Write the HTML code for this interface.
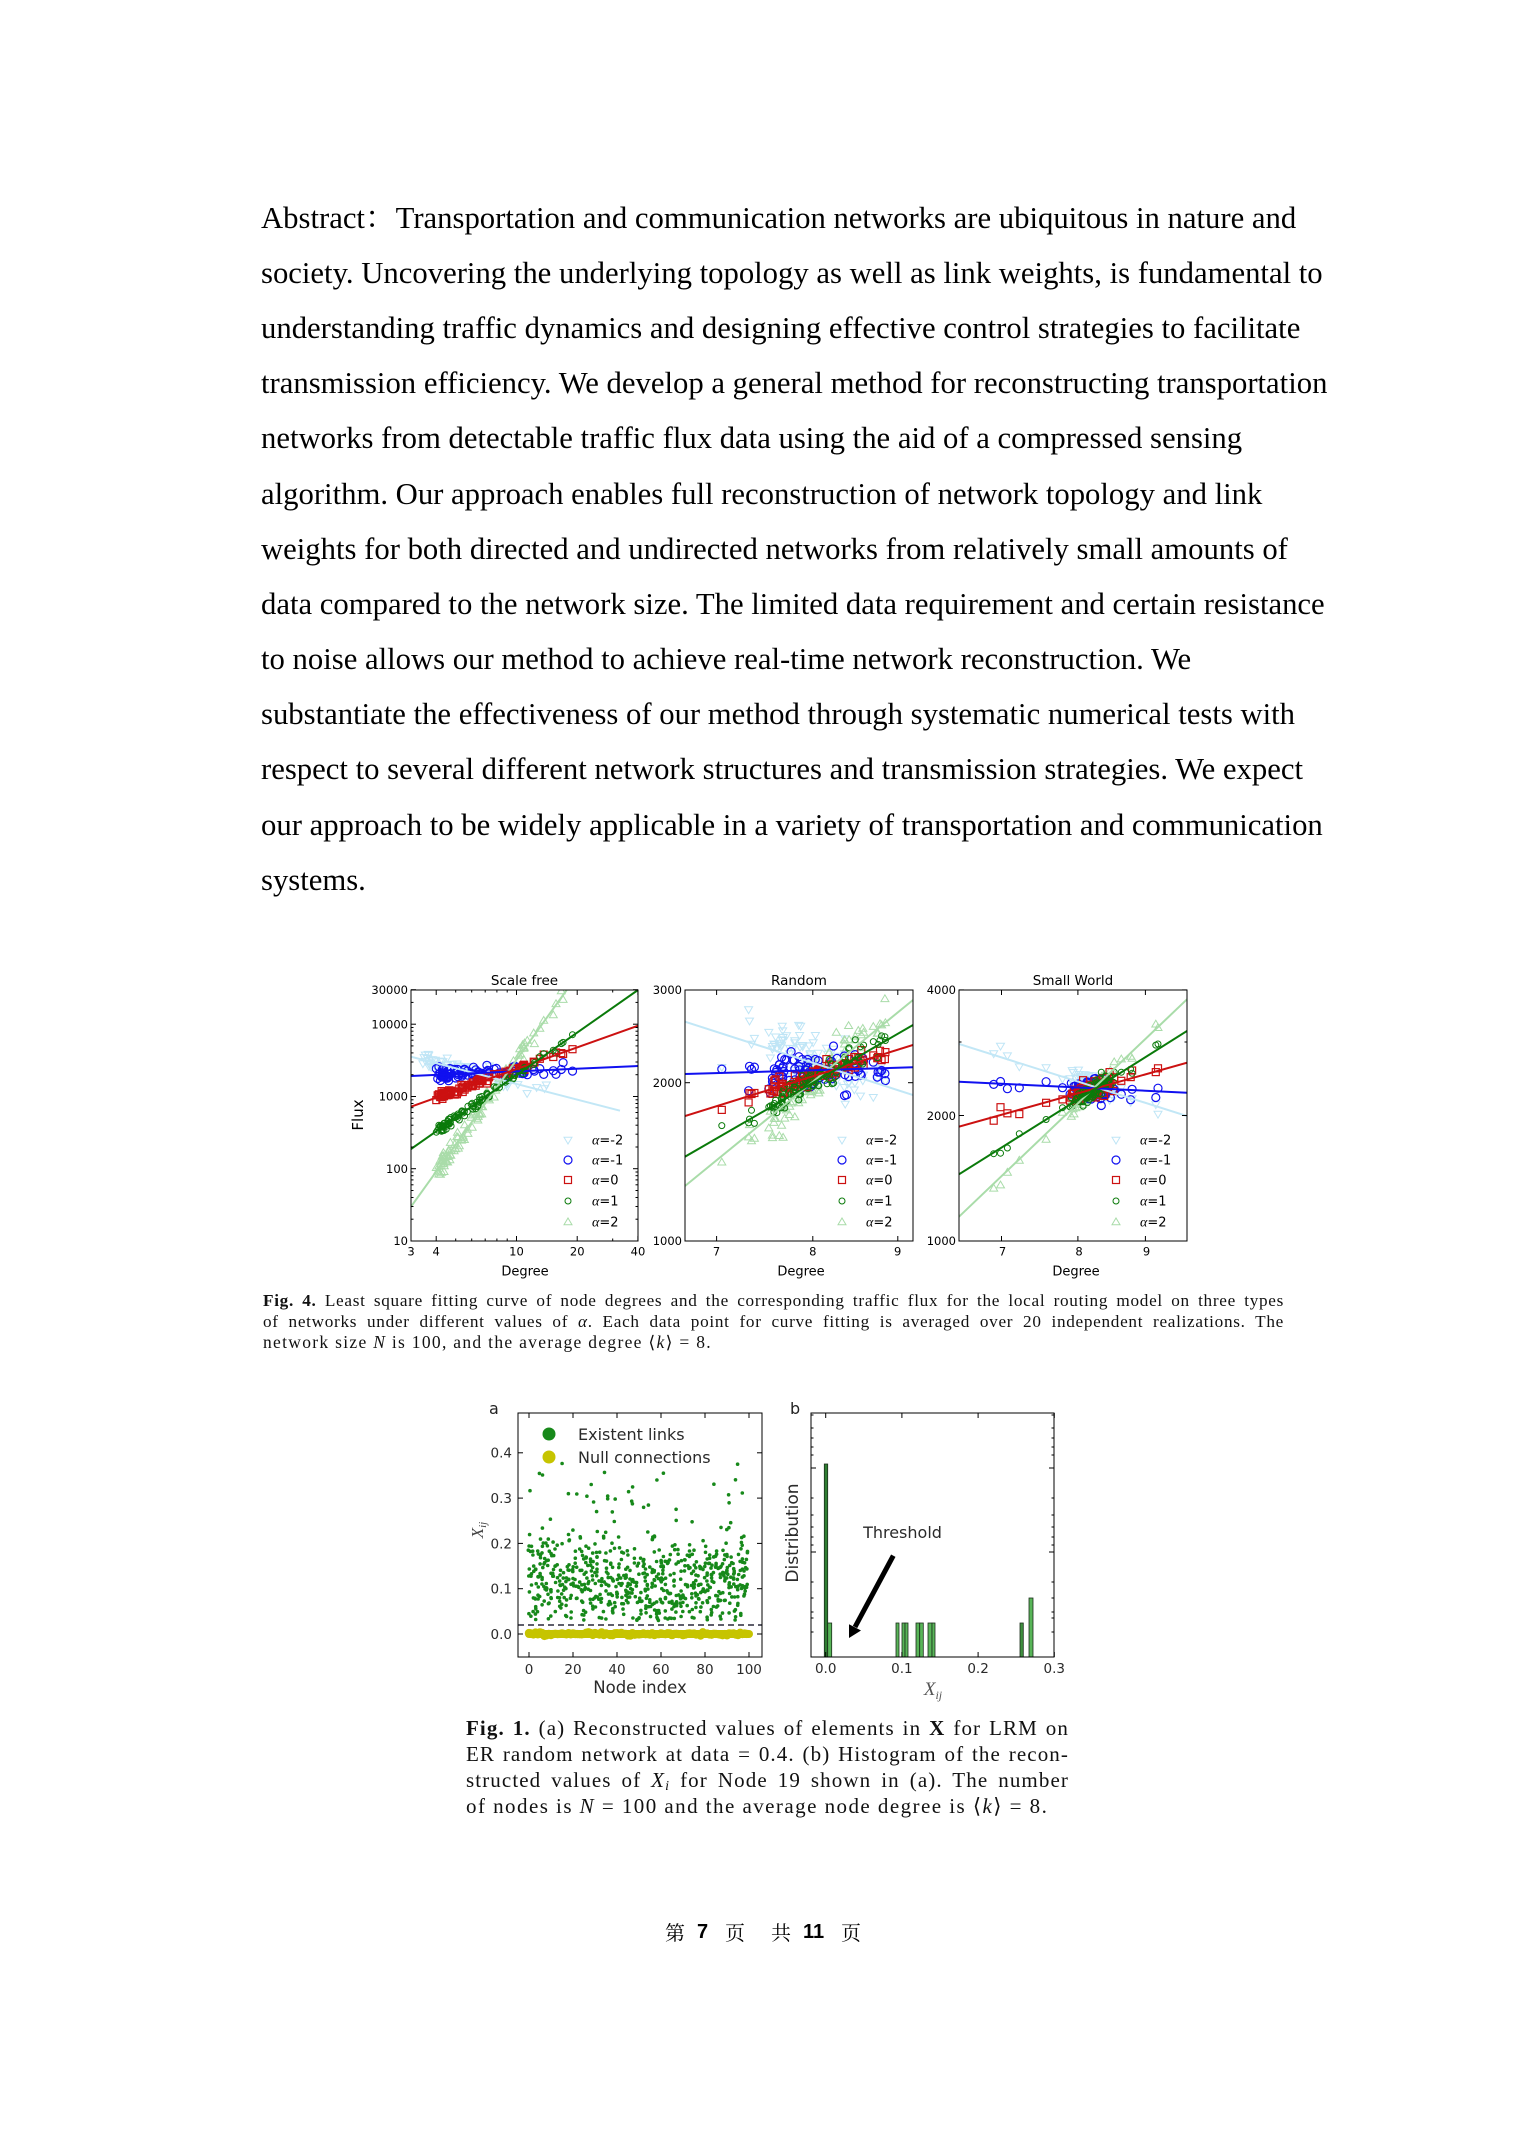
<!DOCTYPE html>
<html><head><meta charset="utf-8">
<style>
html,body{margin:0;padding:0;background:#fff;}
body{width:1522px;height:2152px;position:relative;overflow:hidden;}
.ab{position:absolute;left:261px;font-family:"Liberation Serif","Noto Serif CJK SC",serif;font-size:30.7px;line-height:36px;white-space:nowrap;color:#000;}
.c4{position:absolute;left:263px;width:1021px;font-family:"Liberation Serif","DejaVu Serif",serif;font-size:17.2px;letter-spacing:0.7px;line-height:21px;color:#111;text-align:justify;text-align-last:justify;}
.c1{position:absolute;left:466px;width:603px;font-family:"Liberation Serif","DejaVu Serif",serif;font-size:21px;letter-spacing:1.1px;line-height:26px;color:#111;text-align:justify;text-align-last:justify;}
.l{text-align:left;text-align-last:left;}
.ft{position:absolute;top:1920px;line-height:24px;font-size:20px;white-space:nowrap;color:#000;}
.cj{font-family:"Noto Serif CJK SC","Noto Sans CJK SC",serif;}
.dg{font-family:"Liberation Sans",sans-serif;font-weight:bold;}
svg{position:absolute;left:0;top:0;}
</style></head>
<body>
<div class="ab" style="top:199.6px">Abstract：Transportation and communication networks are ubiquitous in nature and</div>
<div class="ab" style="top:254.8px">society. Uncovering the underlying topology as well as link weights, is fundamental to</div>
<div class="ab" style="top:309.9px">understanding traffic dynamics and designing effective control strategies to facilitate</div>
<div class="ab" style="top:365.1px">transmission efficiency. We develop a general method for reconstructing transportation</div>
<div class="ab" style="top:420.3px">networks from detectable traffic flux data using the aid of a compressed sensing</div>
<div class="ab" style="top:475.5px">algorithm. Our approach enables full reconstruction of network topology and link</div>
<div class="ab" style="top:530.6px">weights for both directed and undirected networks from relatively small amounts of</div>
<div class="ab" style="top:585.8px">data compared to the network size. The limited data requirement and certain resistance</div>
<div class="ab" style="top:641px">to noise allows our method to achieve real-time network reconstruction. We</div>
<div class="ab" style="top:696.1px">substantiate the effectiveness of our method through systematic numerical tests with</div>
<div class="ab" style="top:751.3px">respect to several different network structures and transmission strategies. We expect</div>
<div class="ab" style="top:806.5px">our approach to be widely applicable in a variety of transportation and communication</div>
<div class="ab" style="top:861.6px">systems.</div>

<div class="c4" style="top:1289.5px"><b>Fig. 4.</b> Least square fitting curve of node degrees and the corresponding traffic flux for the local routing model on three types</div>
<div class="c4" style="top:1310.5px">of networks under different values of <i>α</i>. Each data point for curve fitting is averaged over 20 independent realizations. The</div>
<div class="c4 l" style="top:1331.5px;font-size:17.5px;letter-spacing:1.3px">network size <i>N</i> is 100, and the average degree ⟨<i>k</i>⟩ = 8.</div>

<div class="c1" style="top:1714.8px"><b>Fig. 1.</b> (a) Reconstructed values of elements in <b>X</b> for LRM on</div>
<div class="c1" style="top:1740.8px">ER random network at data = 0.4. (b) Histogram of the recon-</div>
<div class="c1" style="top:1766.8px">structed values of <i>X</i><span style="font-size:14px;font-style:italic;vertical-align:-3px">i</span> for Node 19 shown in (a). The number</div>
<div class="c1 l" style="top:1792.8px;letter-spacing:1.45px">of nodes is <i>N</i> = 100 and the average node degree is ⟨<i>k</i>⟩ = 8.</div>

<div class="ft cj" style="left:665px">第</div>
<div class="ft dg" style="left:697px">7</div>
<div class="ft cj" style="left:725px">页</div>
<div class="ft cj" style="left:771px">共</div>
<div class="ft dg" style="left:803px">11</div>
<div class="ft cj" style="left:841px">页</div>

<svg width="1522" height="2152" viewBox="0 0 1522 2152" xmlns="http://www.w3.org/2000/svg">
<defs>
<clipPath id="c1"><rect x="411" y="990" width="227" height="251"/></clipPath>
<clipPath id="c2"><rect x="685" y="990" width="228" height="251"/></clipPath>
<clipPath id="c3"><rect x="959" y="990" width="228" height="251"/></clipPath>
<clipPath id="ca"><rect x="518" y="1413" width="244" height="244"/></clipPath>
</defs>
<g font-family="DejaVu Sans, sans-serif" fill="#000">
<text x="524.5" y="985" font-size="13.5" text-anchor="middle">Scale free</text>
<text x="799" y="985" font-size="13.5" text-anchor="middle">Random</text>
<text x="1073" y="985" font-size="13.5" text-anchor="middle">Small World</text>
<g id="pts1" clip-path="url(#c1)"></g>
<g id="pts2" clip-path="url(#c2)"></g>
<g id="pts3" clip-path="url(#c3)"></g>
<g clip-path="url(#c1)" stroke-width="2" fill="none">
<line x1="411" y1="1056.7" x2="620" y2="1110.7" stroke="#c2e7f6"/>
<line x1="411" y1="1206.7" x2="566.7" y2="990" stroke="#a9dca9"/>
<line x1="411" y1="1076" x2="638" y2="1066" stroke="#1010f0"/>
<line x1="411" y1="1106.7" x2="638" y2="1025.7" stroke="#cc1111"/>
<line x1="411" y1="1149" x2="638" y2="990" stroke="#0a7a0a"/>
</g>
<g clip-path="url(#c2)" stroke-width="2" fill="none">
<line x1="685" y1="1021.7" x2="913" y2="1095" stroke="#c2e7f6"/>
<line x1="685" y1="1186" x2="913" y2="1000" stroke="#a9dca9"/>
<line x1="685" y1="1074" x2="913" y2="1067.3" stroke="#1010f0"/>
<line x1="685" y1="1116" x2="913" y2="1045" stroke="#cc1111"/>
<line x1="685" y1="1156.7" x2="913" y2="1025" stroke="#0a7a0a"/>
</g>
<g clip-path="url(#c3)" stroke-width="2" fill="none">
<line x1="959" y1="1044" x2="1187" y2="1116" stroke="#c2e7f6"/>
<line x1="959" y1="1216.7" x2="1187" y2="999.3" stroke="#a9dca9"/>
<line x1="959" y1="1081.7" x2="1187" y2="1092.7" stroke="#1010f0"/>
<line x1="959" y1="1126.7" x2="1187" y2="1062.7" stroke="#cc1111"/>
<line x1="959" y1="1174.3" x2="1187" y2="1031" stroke="#0a7a0a"/>
</g>
<g fill="none" stroke="#000" stroke-width="1">
<rect x="411" y="990" width="227" height="251"/>
<rect x="685" y="990" width="228" height="251"/>
<rect x="959" y="990" width="228" height="251"/>
</g>
<g id="ticks4" stroke="#000" stroke-width="1"></g>
<g font-size="11.5" text-anchor="end">
<text x="408" y="994.2">30000</text>
<text x="408" y="1028.4">10000</text>
<text x="408" y="1100.7">1000</text>
<text x="408" y="1173">100</text>
<text x="408" y="1245.2">10</text>
<text x="682" y="994.2">3000</text>
<text x="682" y="1086.9">2000</text>
<text x="682" y="1245.2">1000</text>
<text x="956" y="994.2">4000</text>
<text x="956" y="1120">2000</text>
<text x="956" y="1245.2">1000</text>
</g>
<g font-size="11.5" text-anchor="middle">
<text x="411" y="1255.5">3</text>
<text x="436.2" y="1255.5">4</text>
<text x="516.5" y="1255.5">10</text>
<text x="577.2" y="1255.5">20</text>
<text x="638" y="1255.5">40</text>
<text x="716.6" y="1255.5">7</text>
<text x="812.8" y="1255.5">8</text>
<text x="897.7" y="1255.5">9</text>
<text x="1002.5" y="1255.5">7</text>
<text x="1079" y="1255.5">8</text>
<text x="1146.5" y="1255.5">9</text>
</g>
<g font-size="13" text-anchor="middle">
<text x="525" y="1275.5">Degree</text>
<text x="801" y="1275.5">Degree</text>
<text x="1076" y="1275.5">Degree</text>
</g>
<text transform="translate(363,1115) rotate(-90)" font-size="15" text-anchor="middle">Flux</text>
<g id="leg"></g>
<g font-size="13">
<text x="592" y="1144.7"><tspan font-family="Liberation Serif" font-style="italic" font-size="14">α</tspan>=-2</text>
<text x="592" y="1164.7"><tspan font-family="Liberation Serif" font-style="italic" font-size="14">α</tspan>=-1</text>
<text x="592" y="1184.7"><tspan font-family="Liberation Serif" font-style="italic" font-size="14">α</tspan>=0</text>
<text x="592" y="1205.7"><tspan font-family="Liberation Serif" font-style="italic" font-size="14">α</tspan>=1</text>
<text x="592" y="1226.7"><tspan font-family="Liberation Serif" font-style="italic" font-size="14">α</tspan>=2</text>
<text x="866" y="1144.7"><tspan font-family="Liberation Serif" font-style="italic" font-size="14">α</tspan>=-2</text>
<text x="866" y="1164.7"><tspan font-family="Liberation Serif" font-style="italic" font-size="14">α</tspan>=-1</text>
<text x="866" y="1184.7"><tspan font-family="Liberation Serif" font-style="italic" font-size="14">α</tspan>=0</text>
<text x="866" y="1205.7"><tspan font-family="Liberation Serif" font-style="italic" font-size="14">α</tspan>=1</text>
<text x="866" y="1226.7"><tspan font-family="Liberation Serif" font-style="italic" font-size="14">α</tspan>=2</text>
<text x="1140" y="1144.7"><tspan font-family="Liberation Serif" font-style="italic" font-size="14">α</tspan>=-2</text>
<text x="1140" y="1164.7"><tspan font-family="Liberation Serif" font-style="italic" font-size="14">α</tspan>=-1</text>
<text x="1140" y="1184.7"><tspan font-family="Liberation Serif" font-style="italic" font-size="14">α</tspan>=0</text>
<text x="1140" y="1205.7"><tspan font-family="Liberation Serif" font-style="italic" font-size="14">α</tspan>=1</text>
<text x="1140" y="1226.7"><tspan font-family="Liberation Serif" font-style="italic" font-size="14">α</tspan>=2</text>
</g>

<text x="489" y="1414" font-size="16" fill="#222">a</text>
<rect x="525" y="1630" width="228" height="8" rx="4" fill="#c6c400"/>
<g id="pa" clip-path="url(#ca)"></g>
<line x1="518" y1="1625" x2="762" y2="1625" stroke="#2a2a3a" stroke-width="1.5" stroke-dasharray="6,4"/>
<rect x="518" y="1413" width="244" height="244" fill="none" stroke="#000" stroke-width="1"/>
<g id="ticksa" stroke="#000" stroke-width="1"></g>
<circle cx="549" cy="1434" r="6.5" fill="#17891a"/>
<circle cx="549" cy="1457" r="6.5" fill="#c6c400"/>
<g font-size="16" fill="#2a2a2a">
<text x="578" y="1440">Existent links</text>
<text x="578" y="1463">Null connections</text>
</g>
<g font-size="13.5" fill="#2a2a2a" text-anchor="end">
<text x="512" y="1638.9">0.0</text>
<text x="512" y="1593.6">0.1</text>
<text x="512" y="1548.3">0.2</text>
<text x="512" y="1503">0.3</text>
<text x="512" y="1457.7">0.4</text>
</g>
<g font-size="13.5" fill="#2a2a2a" text-anchor="middle">
<text x="529" y="1674">0</text>
<text x="573" y="1674">20</text>
<text x="617" y="1674">40</text>
<text x="661" y="1674">60</text>
<text x="705" y="1674">80</text>
<text x="749" y="1674">100</text>
</g>
<text x="640" y="1693" font-size="16.5" fill="#2a2a2a" text-anchor="middle">Node index</text>
<text transform="translate(483,1530) rotate(-90)" font-size="17" fill="#444" text-anchor="middle" font-family="Liberation Serif, serif" font-style="italic">X<tspan font-size="11" dy="3">ij</tspan></text>

<text x="790" y="1414" font-size="16" fill="#222">b</text>
<g stroke="#1b2e1b" stroke-width="0.8">
<rect x="824.3" y="1464" width="3.4" height="193" fill="#2f7d32"/>
<rect x="827.7" y="1623" width="4" height="34" fill="#58b558"/>
<rect x="896" y="1623" width="3" height="34" fill="#58b558"/>
<rect x="902" y="1623" width="3" height="34" fill="#58b558"/>
<rect x="905" y="1623" width="3" height="34" fill="#58b558"/>
<rect x="916" y="1623" width="3.7" height="34" fill="#58b558"/>
<rect x="919.7" y="1623" width="3.6" height="34" fill="#58b558"/>
<rect x="928" y="1623" width="4" height="34" fill="#58b558"/>
<rect x="932" y="1623" width="3" height="34" fill="#58b558"/>
<rect x="1020" y="1623" width="3.3" height="34" fill="#3f8f3f"/>
<rect x="1029" y="1598" width="4" height="59" fill="#58b558"/>
</g>
<rect x="811" y="1413" width="243" height="244" fill="none" stroke="#000" stroke-width="1"/>
<g id="ticksb" stroke="#000" stroke-width="1"></g>
<g font-size="13.5" fill="#2a2a2a" text-anchor="middle">
<text x="825.7" y="1673">0.0</text>
<text x="901.9" y="1673">0.1</text>
<text x="978.1" y="1673">0.2</text>
<text x="1054.3" y="1673">0.3</text>
</g>
<text x="902.5" y="1538" font-size="16" fill="#2a2a2a" text-anchor="middle">Threshold</text>
<line x1="893.3" y1="1555.7" x2="855" y2="1627" stroke="#000" stroke-width="5"/>
<polygon points="849,1638 861,1630.5 849,1624.3" fill="#000"/>
<text transform="translate(798,1533) rotate(-90)" font-size="17" fill="#2a2a2a" text-anchor="middle">Distribution</text>
<text x="933" y="1695" font-size="19" fill="#555" text-anchor="middle" font-family="Liberation Serif, serif" font-style="italic">X<tspan font-size="12" dy="4">ij</tspan></text>
</g>
</svg>

<script>
(function(){
var sd=987654;
function R(){sd=(sd*16807)%2147483647;return (sd-1)/2147483646;}
function N(){var u=R()||1e-9,v=R();return Math.sqrt(-2*Math.log(u))*Math.cos(2*Math.PI*v);}
function f(v){return v.toFixed(1);}
function ln(x1,y1,x2,y2){return '<line x1="'+f(x1)+'" y1="'+f(y1)+'" x2="'+f(x2)+'" y2="'+f(y2)+'"/>';}
function circ(x,y,r,c,w){return '<circle cx="'+f(x)+'" cy="'+f(y)+'" r="'+r+'" fill="none" stroke="'+c+'" stroke-width="'+w+'"/>';}
function sq(x,y,h,c,w){return '<rect x="'+f(x-h)+'" y="'+f(y-h)+'" width="'+(2*h)+'" height="'+(2*h)+'" fill="none" stroke="'+c+'" stroke-width="'+w+'"/>';}
function tri(x,y,h,c,w,down){var d=down?-1:1;return '<polygon points="'+[x-h,y+d*h*0.7,x+h,y+d*h*0.7,x,y-d*h].map(f).join(',')+'" fill="none" stroke="'+c+'" stroke-width="'+w+'"/>';}
var C={m2:'#bfe5f6',m1:'#1010f0',z:'#cc1111',p1:'#0a7a0a',p2:'#a9dca9'};
function mk(s,x,y){
 if(s==='m2')return tri(x,y,4,C.m2,1,true);
 if(s==='m1')return circ(x,y,4,C.m1,1.2);
 if(s==='z')return sq(x,y,3.5,C.z,1.2);
 if(s==='p1')return circ(x,y,3,C.p1,1);
 return tri(x,y,4,C.p2,1,false);
}
var P=[
 {id:'pts1',
  X:function(d){return 411+201.7*Math.log10(d/3);},
  L:{m2:[411,1056.7,620,1110.7],m1:[411,1076,638,1066],z:[411,1106.7,638,1025.7],p1:[411,1149,638,990],p2:[411,1206.7,566.7,990]},
  deg:function(){return 4/Math.sqrt(1-0.985*R())+0.25*R();},
  nz:{m2:4,m1:3.5,z:1.8,p1:2.2,p2:5}},
 {id:'pts2',
  X:function(d){return 685+1660*Math.log10(d/6.7);},
  L:{m2:[685,1021.7,913,1095],m1:[685,1074,913,1067.3],z:[685,1116,913,1045],p1:[685,1156.7,913,1025],p2:[685,1186,913,1000]},
  deg:function(){var d=8.05+0.38*N();return Math.max(6.85,Math.min(8.9,d));},
  nz:{m2:15,m1:9,z:4,p1:6,p2:11}},
 {id:'pts3',
  X:function(d){return 959+1319*Math.log10(d/6.5);},
  L:{m2:[959,1044,1187,1116],m1:[959,1081.7,1187,1092.7],z:[959,1126.7,1187,1062.7],p1:[959,1174.3,1187,1031],p2:[959,1216.7,1187,999.3]},
  deg:function(){if(R()<0.85)return 8.2+0.17*N();return 6.8+2.6*R();},
  nz:{m2:5,m1:5,z:4,p1:4,p2:5}}
];
function ly(L,x){return L[1]+(L[3]-L[1])*(x-L[0])/(L[2]-L[0]);}
var order=['m2','p2','m1','z','p1'];
P.forEach(function(p){
 var degs=[];for(var i=0;i<100;i++)degs.push(p.deg());
 var h='';
 order.forEach(function(s){
  for(var i=0;i<degs.length;i++){
   var d=degs[i];
   if(s==='m2'&&p.id==='pts1'){d=d*0.82+0.1; if(i%3===0)continue;}
   var x=p.X(d);
   if(s==='m2'&&p.id==='pts1'&&x>600)continue;
   var y=ly(p.L[s],x)+p.nz[s]*N();
   h+=mk(s,x,y);
  }
 });
 document.getElementById(p.id).innerHTML=h;
});
var lg='',rows=[1140,1160,1180,1201,1222];
[411,685,959].forEach(function(x0){
 var ss=['m2','m1','z','p1','p2'];
 for(var k=0;k<5;k++)lg+=mk(ss[k],x0+157,rows[k]);
});
document.getElementById('leg').innerHTML=lg;
var t='';
function yt(x0,x1,y,L){t+=ln(x0,y,x0+L,y)+ln(x1,y,x1-L,y);}
function xt(y0,y1,x,L){t+=ln(x,y1,x,y1-L)+ln(x,y0,x,y0+L);}
function Ysf(v){return 1241-72.27*Math.log10(v/10);}
[10,100,1000,10000,30000].forEach(function(v){yt(411,638,Ysf(v),5);});
[10,100,1000,10000].forEach(function(b){for(var k=2;k<=9;k++){var v=k*b;if(v<30000)yt(411,638,Ysf(v),2.5);}});
[3,4,10,20,40].forEach(function(d){xt(990,1241,P[0].X(d),5);});
[5,6,7,8,9,30].forEach(function(d){xt(990,1241,P[0].X(d),2.5);});
function Yr(v){return 1241-526*Math.log10(v/1000);}
[1000,2000,3000].forEach(function(v){yt(685,913,Yr(v),5);});
[7,8,9].forEach(function(d){xt(990,1241,P[1].X(d),5);});
function Ysw(v){return 1241-417*Math.log10(v/1000);}
[1000,2000,4000].forEach(function(v){yt(959,1187,Ysw(v),5);});
yt(959,1187,Ysw(3000),2.5);
[7,8,9].forEach(function(d){xt(990,1241,P[2].X(d),5);});
document.getElementById('ticks4').innerHTML=t;
var a='';
for(var i=0;i<100;i++){
 var x=529+2.2*i;a+='<circle cx="'+f(x)+'" cy="'+f(1634+0.8*N())+'" r="4.2" fill="#c6c400"/>';
}
for(var i=0;i<100;i++){
 var x=529+2.2*i,base=0.115+0.022*N(),n=5+Math.floor(R()*6);
 for(var k=0;k<n;k++){
  var v;if(R()<0.04)v=0.24+0.14*R();else v=base+0.045*N();
  if(v<0.03)v=0.03+0.025*R();
  a+='<circle cx="'+f(x+0.4*N())+'" cy="'+f(1634-453*v)+'" r="1.8" fill="#17891a"/>';
 }
}
document.getElementById('pa').innerHTML=a;
t='';
[0,0.1,0.2,0.3,0.4].forEach(function(v){yt(518,762,1634-453*v,5);});
[0,20,40,60,80,100].forEach(function(n){xt(1413,1657,529+2.2*n,5);});
document.getElementById('ticksa').innerHTML=t;
t='';
[0,0.1,0.2,0.3].forEach(function(v){xt(1413,1657,825.7+762*v,5);});
[1415,1428,1438,1447,1455,1498,1515,1527,1537,1545,1582,1598,1612,1618,1632].forEach(function(y){yt(811,1054,y,2.5);});
[1468,1552].forEach(function(y){yt(811,1054,y,5);});
document.getElementById('ticksb').innerHTML=t;
})();
</script>
</body></html>
